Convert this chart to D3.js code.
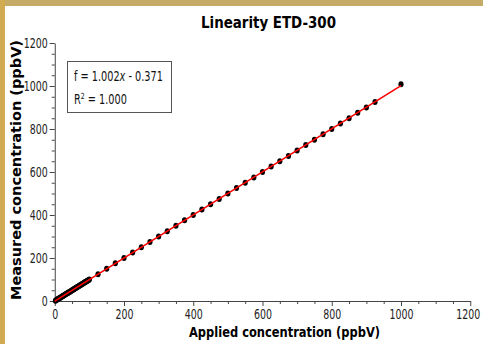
<!DOCTYPE html>
<html><head><meta charset="utf-8">
<script src="https://cdn.jsdelivr.net/npm/d3@7"></script>
<style>
html,body{margin:0;padding:0;background:#fff;}
svg{display:block;}
.tick text{font-family:"DejaVu Sans",sans-serif;font-size:13.5px;fill:#222;}
</style></head>
<body>
<svg id="c" width="483" height="344"></svg>
<script>
// ---- data ----
const title = "Linearity ETD-300";
const xLabel = "Applied concentration (ppbV)";
const yLabel = "Measured concentration (ppbV)";
const fitSlope = 1.002, fitIntercept = -0.371;
const r2Text = "1.000";
const xTicks = [0,200,400,600,800,1000,1200];
const yTicks = [0,200,400,600,800,1000,1200];
const appliedDense = [2,4,6,8,10,12,14,16,18,20,22,24,26,28,30,32,34,36,38,40,42,44,46,48,50,52,54,56,58,60,62,64,66,68,70,72,74,76,78,80,82,84,86,88,90,92,94,96,98,100];
const measuredDense = [1.7,3.5,5.8,7.6,9.7,11.5,13.8,15.6,17.7,19.8,21.6,23.7,25.5,27.8,29.7,31.6,33.9,35.7,37.6,39.8,41.7,43.5,45.9,47.6,49.8,51.7,53.6,55.9,57.7,59.8,61.6,63.8,65.7,67.9,69.6,71.8,73.7,75.6,77.9,79.8,81.7,83.6,85.8,87.9,89.7,91.6,93.8,95.9,97.7,99.9];
const appliedSparse = [125,150,175,200,225,250,275,300,325,350,375,400,425,450,475,500,525,550,575,600,625,650,675,700,725,750,775,800,825,850,875,900,925,1000];
const measuredSparse = [124.8,149.9,175.1,199.9,225.3,250.1,274.8,300.2,325.0,350.3,375.1,399.8,425.2,450.4,475.0,500.1,525.3,550.2,574.9,600.4,625.1,650.3,675.0,700.2,725.4,750.1,775.3,800.0,825.2,850.4,875.1,900.3,925.2,1008];
const fitRange = [0,1000];

// ---- drawing ----
const svg = d3.select("#c");
svg.append("rect").attr("x",0).attr("y",0).attr("width",483).attr("height",6).attr("fill","#c6ab68");
svg.append("rect").attr("x",0).attr("y",0).attr("width",5).attr("height",344).attr("fill","#d2aa52");

const x = d3.scaleLinear().domain([0,1200]).range([54.75,470.25]);
const y = d3.scaleLinear().domain([0,1200]).range([301,43]);

const minor = d3.range(0,1201,50).filter(v=>v%200!==0);

svg.append("g").attr("transform","translate(0,301)")
  .call(d3.axisBottom(x).tickValues(minor).tickSize(3).tickFormat(""))
  .call(g=>g.select(".domain").remove())
  .selectAll("line").attr("stroke","#444");
svg.append("g").attr("transform","translate(54.75,0)")
  .call(d3.axisLeft(y).tickValues(minor).tickSize(3).tickFormat(""))
  .call(g=>g.select(".domain").remove())
  .selectAll("line").attr("stroke","#444");

function narrow(sel){
  sel.selectAll(".tick text").each(function(){
    const t = d3.select(this);
    t.attr("textLength", t.text().length*6).attr("lengthAdjust","spacingAndGlyphs");
  });
}
const xa = svg.append("g").attr("transform","translate(0,301)")
  .call(d3.axisBottom(x).tickValues(xTicks).tickSize(5).tickSizeOuter(0).tickPadding(3).tickFormat(d3.format("d")));
xa.select(".domain").attr("stroke","#444");
xa.selectAll("line").attr("stroke","#444");
narrow(xa);
xa.selectAll(".tick text").filter(d=>d===1200).attr("dx",-2.5);
const ya = svg.append("g").attr("transform","translate(54.75,0)")
  .call(d3.axisLeft(y).tickValues(yTicks).tickSize(5).tickSizeOuter(0).tickPadding(2).tickFormat(d3.format("d")));
ya.select(".domain").attr("stroke","#444");
ya.selectAll("line").attr("stroke","#444");
narrow(ya);

const pts = appliedDense.map((a,i)=>[a,measuredDense[i]]).concat(appliedSparse.map((a,i)=>[a,measuredSparse[i]]));
svg.append("g").selectAll("ellipse").data(pts).join("ellipse")
  .attr("cx",d=>x(d[0])).attr("cy",d=>y(d[1])).attr("rx",2.6).attr("ry",3).attr("fill","#000");

svg.append("line")
  .attr("x1",x(fitRange[0])).attr("y1",y(fitSlope*fitRange[0]+fitIntercept))
  .attr("x2",x(fitRange[1])).attr("y2",y(fitSlope*fitRange[1]+fitIntercept))
  .attr("stroke","#ff0000").attr("stroke-width",1.6);

svg.append("rect").attr("x",67.5).attr("y",61.5).attr("width",104).attr("height",51)
  .attr("fill","#fff").attr("stroke","#555").attr("stroke-width",1);
const lf = "'DejaVu Sans',sans-serif";
const g1 = svg.append("g").attr("transform","translate(74,81)");
const t1 = g1.append("text").attr("x",0).attr("y",0).attr("font-family",lf).attr("font-size",13.5).attr("fill","#111");
t1.append("tspan").text("f = 1.002");
t1.append("tspan").attr("font-style","italic").text("x");
t1.append("tspan").text(" - 0.371");
const w1 = t1.node().getComputedTextLength();
const sx = 89 / w1;
g1.attr("transform",`translate(74,81) scale(${sx},1)`);
const g2 = svg.append("g").attr("transform",`translate(74,104) scale(${sx},1)`);
const t2 = g2.append("text").attr("x",0).attr("y",0).attr("font-family",lf).attr("font-size",13.5).attr("fill","#111");
t2.append("tspan").text("R");
t2.append("tspan").attr("font-size",8.5).attr("dy",-5).text("2");
t2.append("tspan").attr("dy",5).text(" = " + r2Text);

svg.append("text").attr("x",268.5).attr("y",28).attr("text-anchor","middle")
  .attr("font-family","'DejaVu Sans'").attr("font-weight","bold").attr("font-size",16)
  .attr("textLength",135).attr("lengthAdjust","spacingAndGlyphs").attr("fill","#000").text(title);
svg.append("text").attr("x",284.5).attr("y",337).attr("text-anchor","middle")
  .attr("font-family","'DejaVu Sans'").attr("font-weight","bold").attr("font-size",14)
  .attr("textLength",191).attr("lengthAdjust","spacingAndGlyphs").attr("fill","#000").text(xLabel);
svg.append("text").attr("transform","translate(20.5,170) rotate(-90)").attr("text-anchor","middle")
  .attr("font-family","'DejaVu Sans'").attr("font-weight","bold").attr("font-size",14.5)
  .attr("textLength",260).attr("lengthAdjust","spacingAndGlyphs").attr("fill","#000").text(yLabel);
</script>
</body></html>
